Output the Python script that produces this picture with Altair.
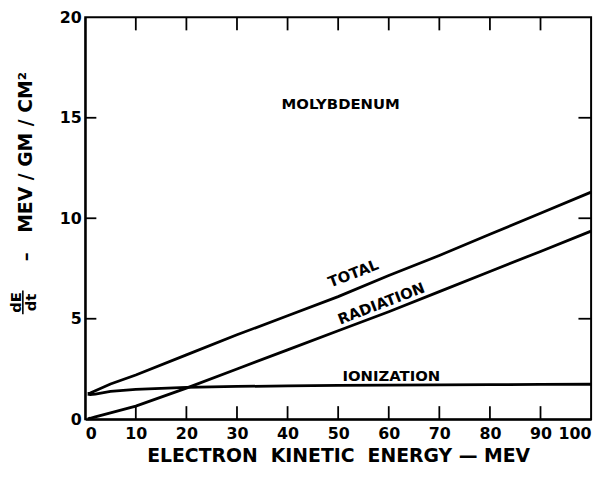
import altair as alt
import pandas as pd

# ---- data ----
energy = [0.5, 1, 2, 5, 10, 20, 30, 40, 50, 60, 70, 80, 90, 100]
ionization = [1.25, 1.22, 1.25, 1.38, 1.48, 1.58, 1.63, 1.66, 1.68, 1.70, 1.71, 1.72, 1.73, 1.74]
radiation = [0.02, 0.05, 0.12, 0.32, 0.65, 1.55, 2.5, 3.45, 4.4, 5.35, 6.35, 7.35, 8.35, 9.36]
total = [1.27, 1.3, 1.42, 1.75, 2.2, 3.2, 4.2, 5.15, 6.1, 7.15, 8.15, 9.2, 10.25, 11.3]

x_tick_values = [0, 10, 20, 30, 40, 50, 60, 70, 80, 90, 100]
y_tick_values = [0, 5, 10, 15, 20]
inner_x_ticks = [10, 20, 30, 40, 50, 60, 70, 80, 90]
inner_y_ticks = [5, 10, 15]

labels_text = ["MOLYBDENUM", "IONIZATION"]
labels_x = [50.5, 60.5]
labels_y = [15.7, 2.15]

slanted_text = ["TOTAL", "RADIATION"]
slanted_x = [53.0, 58.5]
slanted_y = [7.25, 5.75]

FONT = "DejaVu Sans"
NB = "\u00a0"

# curves and inner tick segments in one long table (one line per 'series')
rows = []
for name, vals in [("TOTAL", total), ("RADIATION", radiation), ("IONIZATION", ionization)]:
    for e, v in zip(energy, vals):
        rows.append({"series": name, "energy": e, "value": v, "w": 2.8})
k = 0
segments = []
for t in inner_x_ticks:
    segments.append(((t, 0.0), (t, 0.65)))
    segments.append(((t, 20.0), (t, 19.35)))
for t in inner_y_ticks:
    segments.append(((0.0, t), (2.2, t)))
    segments.append(((100.0, t), (97.5, t)))
for (a, b) in segments:
    sid = "tick%02d" % k
    rows.append({"series": sid, "energy": a[0], "value": a[1], "w": 1.8})
    rows.append({"series": sid, "energy": b[0], "value": b[1], "w": 1.8})
    k += 1
df = pd.DataFrame(rows)

xs = alt.Scale(domain=[0, 100], nice=False)
ys = alt.Scale(domain=[0, 20], nice=False)

x_title = "ELECTRON" + NB * 2 + "KINETIC" + NB * 2 + "ENERGY" + NB + "—" + NB + "MEV"

axis_style = dict(
    grid=False, ticks=False, domainColor="black", domainWidth=2,
    labelFont=FONT, labelFontSize=16, labelFontWeight="bold", labelColor="black",
    titleFont=FONT, titleFontSize=19, titleFontWeight="bold", titleColor="black",
)

lines = alt.Chart(df).mark_line(color="black").encode(
    x=alt.X("energy:Q", scale=xs,
            axis=alt.Axis(values=x_tick_values, title=x_title,
                          labelPadding=6, titlePadding=6, **axis_style)),
    y=alt.Y("value:Q", scale=ys,
            axis=alt.Axis(values=y_tick_values, title="MEV / GM / CM²",
                          labelPadding=4, titleX=-60, titleY=136,
                          titleAlign="center", titleBaseline="middle", **axis_style)),
    strokeWidth=alt.StrokeWidth("w:Q", scale=None, legend=None),
    detail="series:N",
)

lab_df = pd.DataFrame({"label": labels_text, "lx": labels_x, "ly": labels_y})
labels = alt.Chart(lab_df).mark_text(
    font=FONT, fontSize=15, fontWeight="bold", color="black"
).encode(x=alt.X("lx:Q", scale=xs), y=alt.Y("ly:Q", scale=ys), text="label:N")

sl_df = pd.DataFrame({"label": slanted_text, "lx": slanted_x, "ly": slanted_y})
slanted = alt.Chart(sl_df).mark_text(
    font=FONT, fontSize=15, fontWeight="bold", color="black", angle=339
).encode(x=alt.X("lx:Q", scale=xs), y=alt.Y("ly:Q", scale=ys), text="label:N")

# pieces of the y-axis title: dash and dE/dt fraction
dash = alt.Chart(pd.DataFrame({"s": ["–"]})).mark_text(
    font=FONT, fontSize=18, fontWeight="bold", angle=270, color="black"
).encode(x=alt.value(-59), y=alt.value(242), text="s:N")
frac_num = alt.Chart(pd.DataFrame({"s": ["dE"]})).mark_text(
    font=FONT, fontSize=15, fontWeight="bold", angle=270, color="black"
).encode(x=alt.value(-70), y=alt.value(288), text="s:N")
frac_den = alt.Chart(pd.DataFrame({"s": ["dt"]})).mark_text(
    font=FONT, fontSize=15, fontWeight="bold", angle=270, color="black"
).encode(x=alt.value(-55), y=alt.value(288), text="s:N")
frac_bar = alt.Chart(pd.DataFrame({"b": [0]})).mark_rect(color="black").encode(
    x=alt.value(-63.8), x2=alt.value(-62.2), y=alt.value(276), y2=alt.value(300))

chart = alt.layer(
    lines, labels, slanted, dash, frac_num, frac_den, frac_bar
).properties(
    width=511, height=406,
    autosize=alt.AutoSizeParams(type="none"),
    padding={"left": 78, "top": 7, "right": 10, "bottom": 58},
    background="white",
).configure_view(
    stroke="black", strokeWidth=2
)

chart.save("out.html", embed_options={"renderer": "svg", "actions": False})
